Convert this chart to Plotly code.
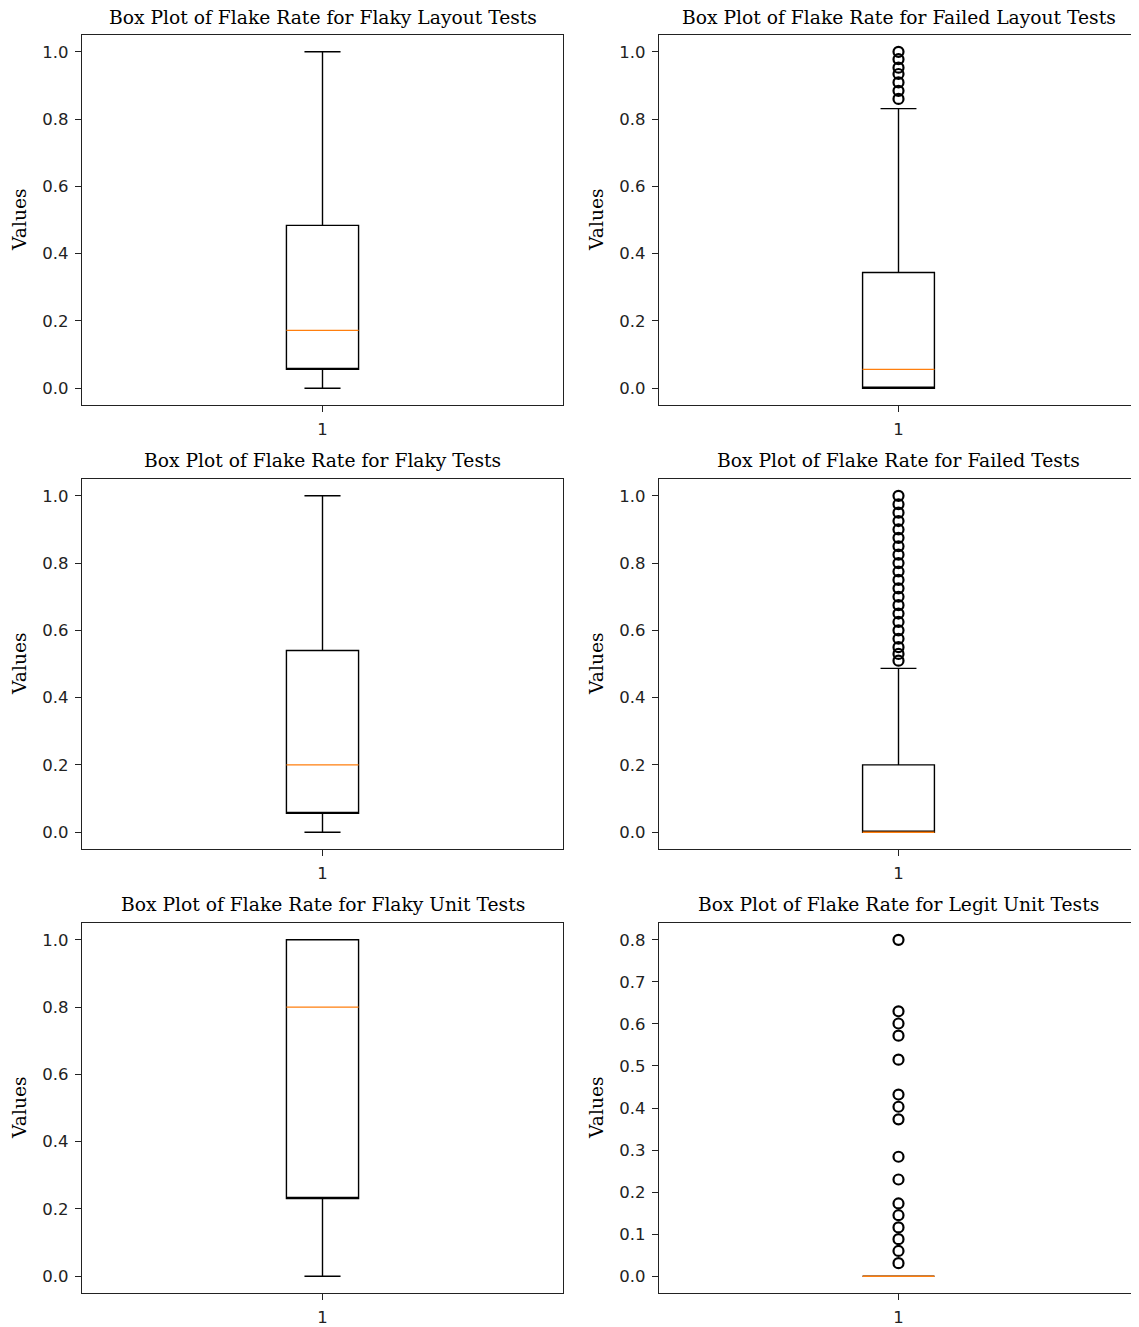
import plotly.graph_objects as go

# ---------------- data ----------------
titles = [
    "Box Plot of Flake Rate for Flaky Layout Tests",
    "Box Plot of Flake Rate for Failed Layout Tests",
    "Box Plot of Flake Rate for Flaky Tests",
    "Box Plot of Flake Rate for Failed Tests",
    "Box Plot of Flake Rate for Flaky Unit Tests",
    "Box Plot of Flake Rate for Legit Unit Tests",
]
q1_vals = [0.056, 0.0, 0.056, 0.0, 0.231, 0.0]
median_vals = [0.172, 0.056, 0.200, 0.0, 0.800, 0.0]
q3_vals = [0.484, 0.344, 0.540, 0.200, 1.0, 0.0]
low_whisker = [0.0, 0.0, 0.0, 0.0, 0.0, 0.0]
high_whisker = [1.0, 0.831, 1.0, 0.487, 1.0, 0.0]

outliers_failed_layout = [1.0, 0.978, 0.953, 0.934, 0.909, 0.884, 0.86]
outliers_failed = [1.0, 0.975, 0.95, 0.925, 0.9, 0.875, 0.85, 0.825, 0.8, 0.775,
                   0.75, 0.725, 0.7, 0.675, 0.65, 0.625, 0.6, 0.575, 0.55, 0.53, 0.51]
outliers_legit_unit = [0.8, 0.63, 0.601, 0.572, 0.515, 0.432, 0.403, 0.373,
                       0.284, 0.23, 0.173, 0.145, 0.116, 0.088, 0.06, 0.031]
outliers = [[], outliers_failed_layout, [], outliers_failed, [], outliers_legit_unit]

yranges = [[-0.05, 1.05]] * 5 + [[-0.04, 0.84]]
ytick_sets = [[0, 0.2, 0.4, 0.6, 0.8, 1.0]] * 5 + [[0, 0.1, 0.2, 0.3, 0.4, 0.5, 0.6, 0.7, 0.8]]
x_labels = ["1"]

# ---------------- layout geometry ----------------
OFF = 7  # page body offset
W, H = 1139 - OFF, 1327 - OFF
col_px = [(81 - OFF, 562 - OFF), (658 - OFF, 1137 - OFF)]
row_px = [(34 - OFF, 404 - OFF), (478 - OFF, 848 - OFF), (922 - OFF, 1292 - OFF)]

fig = go.Figure()
layout = dict(
    width=W, height=H,
    margin=dict(l=0, r=0, t=0, b=0),
    paper_bgcolor="white", plot_bgcolor="white",
    showlegend=False,
)
annotations = []
serif = "DejaVu Serif"
sans = "DejaVu Sans"
LW = 1.4

for i in range(6):
    r, c = divmod(i, 2)
    n = i + 1
    xa = "x" if n == 1 else f"x{n}"
    ya = "y" if n == 1 else f"y{n}"
    xkey = "xaxis" if n == 1 else f"xaxis{n}"
    ykey = "yaxis" if n == 1 else f"yaxis{n}"
    x0, x1 = col_px[c]
    top, bot = row_px[r]
    common = dict(
        ticks="outside", ticklen=6, tickwidth=1.2, tickcolor="#222",
        showline=True, mirror=True, linecolor="#222", linewidth=1.2,
        showgrid=False, zeroline=False, ticklabelstandoff=3,
        tickfont=dict(family=sans, size=16.5, color="#222"),
    )
    layout[xkey] = dict(
        domain=[x0 / W, x1 / W], anchor=ya, range=[0.5, 1.5],
        tickvals=[1], ticktext=x_labels, **common,
    )
    layout[ykey] = dict(
        domain=[1 - bot / H, 1 - top / H], anchor=xa, range=yranges[i],
        tickvals=ytick_sets[i], tickformat=".1f", **common,
    )
    # box (its own median line sits on q1; the visible median is drawn in orange below)
    fig.add_trace(go.Box(
        x=[1], q1=[q1_vals[i]], median=[q1_vals[i]], q3=[q3_vals[i]],
        lowerfence=[low_whisker[i]], upperfence=[high_whisker[i]],
        width=0.15, whiskerwidth=0.5, boxpoints=False,
        line=dict(color="black", width=LW), fillcolor="rgba(0,0,0,0)",
        xaxis=xa, yaxis=ya, hoverinfo="skip",
    ))
    # orange median line
    fig.add_trace(go.Box(
        x=[1], q1=[median_vals[i]], median=[median_vals[i]], q3=[median_vals[i]],
        lowerfence=[median_vals[i]], upperfence=[median_vals[i]],
        width=0.15, whiskerwidth=0, boxpoints=False,
        line=dict(color="#ff7f0e", width=LW), fillcolor="rgba(0,0,0,0)",
        xaxis=xa, yaxis=ya, hoverinfo="skip",
    ))
    if outliers[i]:
        fig.add_trace(go.Scatter(
            x=[1] * len(outliers[i]), y=outliers[i], mode="markers",
            marker=dict(symbol="circle-open", size=10, color="black", line=dict(width=2.2)),
            xaxis=xa, yaxis=ya, hoverinfo="skip",
        ))
    # title
    ty = max(top - 19, 10)
    annotations.append(dict(
        text=titles[i], x=(x0 + x1) / 2 / W, y=1 - ty / H,
        xref="paper", yref="paper", xanchor="center", yanchor="middle",
        showarrow=False, font=dict(family=serif, size=18.7, color="black"),
    ))
    # y label
    annotations.append(dict(
        text="Values", x=(x0 - 63) / W, y=1 - ((top + bot) / 2) / H,
        xref="paper", yref="paper", xanchor="center", yanchor="middle",
        textangle=-90, showarrow=False, font=dict(family=serif, size=18.7, color="black"),
    ))

layout["annotations"] = annotations
fig.update_layout(**layout)
fig.write_html("out.html")
